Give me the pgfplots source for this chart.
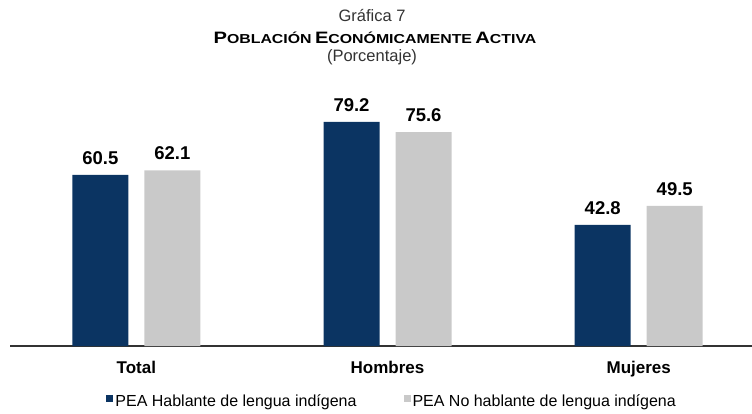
\documentclass[border=0pt]{standalone}
\usepackage{fontspec}
\setmainfont{Liberation Sans}
\usepackage{graphicx}
\usepackage{pgfplots}
\pgfplotsset{compat=1.18}
\definecolor{navy}{HTML}{0B3462}
\definecolor{lgray}{HTML}{C9C9C9}
\begin{document}
\begin{tikzpicture}
\useasboundingbox (-10pt,-67pt) rectangle (742pt,346pt);
\begin{axis}[
 at={(0pt,0pt)}, anchor=south west,
 scale only axis, width=742pt, height=249pt,
 xmin=-0.503, xmax=2.451, ymin=0, ymax=88,
 ybar=16pt, bar width=56pt,
 axis x line=bottom, axis y line=none,
 axis line style={-, draw=black!80, line width=1.6pt},
 xtick={0,1,2}, xticklabels={Total,Hombres,Mujeres},
 major tick length=0pt,
 xticklabel style={font=\fontsize{17}{17}\selectfont\bfseries, anchor=base, yshift=-27pt},
 ytick=\empty,
 /pgf/number format/assume math mode=true,
 /pgf/number format/fixed,
 /pgf/number format/fixed zerofill,
 /pgf/number format/precision=1,
 nodes near coords,
 every node near coord/.append style={font=\fontsize{18.5}{18.5}\selectfont\bfseries, inner sep=0pt, anchor=base, yshift=10.5pt, text=black},
 legend columns=2,
 legend style={at={(0.515,-0.221)}, anchor=center, draw=none, fill=none, font=\fontsize{16}{16}\selectfont, /tikz/every even column/.append style={column sep=45pt}},
 legend image code/.code={\fill[#1] (0pt,-1pt) rectangle (7pt,6pt);},
 clip=false,
]
\addplot[fill=navy, draw=none] coordinates {(0,60.5) (1,79.2) (2,42.8)};
\addplot[fill=lgray, draw=none] coordinates {(0,62.1) (1,75.6) (2,49.5)};
\legend{PEA Hablante de lengua indígena, PEA No hablante de lengua indígena}
\end{axis}
\node[anchor=base, font=\fontsize{16.5}{16.5}\selectfont, text=black!80] at (362pt,324pt) {Gráfica 7};
\node[anchor=base, font=\bfseries] at (365pt,302pt) {\scalebox{1.22}[1]{{\fontsize{16.5}{16.5}\selectfont P}{\fontsize{13}{13}\selectfont OBLACIÓN} {\fontsize{16.5}{16.5}\selectfont E}{\fontsize{13}{13}\selectfont CONÓMICAMENTE} {\fontsize{16.5}{16.5}\selectfont A}{\fontsize{13}{13}\selectfont CTIVA}}};
\node[anchor=base, font=\fontsize{16.5}{16.5}\selectfont, text=black!80] at (362pt,284pt) {(Porcentaje)};
\end{tikzpicture}
\end{document}
